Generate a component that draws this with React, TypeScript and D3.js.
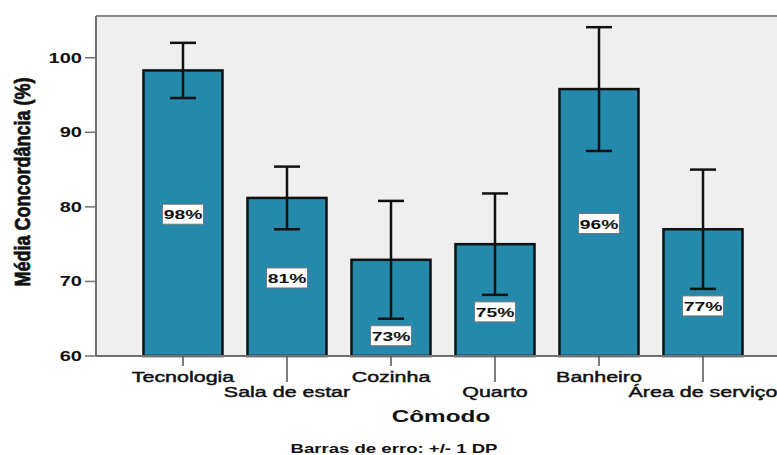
import React from "react";
import * as d3 from "d3";

const categories = ["Tecnologia", "Sala de estar", "Cozinha", "Quarto", "Banheiro", "Área de serviço"];
const means = [98.3, 81.2, 72.9, 75.0, 95.8, 77.0];
const sds = [3.7, 4.2, 7.9, 6.8, 8.3, 8.0];
const valueLabels = ["98%", "81%", "73%", "75%", "96%", "77%"];
const yTicks = [60, 70, 80, 90, 100];

const W = 777;
const H = 455;
const SX = 1.43;
const FONT = "'Liberation Sans', Arial, Helvetica, sans-serif";

export default function App() {
  const left = 96;
  const right = 790;
  const top = 16;
  const bottom = 356;

  const y = d3.scaleLinear().domain([60, 105.6]).range([bottom, top]);
  const x = d3
    .scaleBand<string>()
    .domain(categories)
    .range([left, right])
    .paddingInner(0.24)
    .paddingOuter(0.4565);
  const bw = x.bandwidth();
  const capHalf = 13;

  return (
    <svg
      width={W}
      height={H}
      style={{ position: "absolute", left: 0, top: 0, background: "#fff" }}
      fontFamily={FONT}
    >
      {/* plot background */}
      <rect x={left} y={top} width={right - left} height={bottom - top} fill="#efefef" />
      <line x1={left} x2={right} y1={top} y2={top} stroke="#888" strokeWidth={2} />

      {/* bars */}
      {categories.map((c, i) => {
        const x0 = x(c)!;
        return (
          <rect
            key={"b" + c}
            x={x0}
            y={y(means[i])}
            width={bw}
            height={bottom - y(means[i])}
            fill="#2489aa"
            stroke="#111"
            strokeWidth={2.5}
          />
        );
      })}

      {/* error bars */}
      {categories.map((c, i) => {
        const cx = x(c)! + bw / 2;
        const hi = y(means[i] + sds[i]);
        const lo = y(means[i] - sds[i]);
        return (
          <g key={"e" + c} stroke="#111" strokeWidth={2.5}>
            <line x1={cx} x2={cx} y1={hi} y2={lo} />
            <line x1={cx - capHalf} x2={cx + capHalf} y1={hi} y2={hi} />
            <line x1={cx - capHalf} x2={cx + capHalf} y1={lo} y2={lo} />
          </g>
        );
      })}

      {/* value labels */}
      {categories.map((c, i) => {
        const cx = x(c)! + bw / 2;
        const mid = (y(means[i]) + bottom) / 2;
        const lo = y(means[i] - sds[i]);
        const cy = Math.max(mid + 1, lo + 17);
        return (
          <g key={"l" + c}>
            <rect x={cx - 20.5} y={cy - 10} width={41} height={20} fill="#fff" stroke="#777" strokeWidth={1} />
            <text
              transform={`translate(${cx},${cy + 5}) scale(${SX},1)`}
              textAnchor="middle"
              fontSize={13.5}
              fontWeight="bold"
              fill="#111"
            >
              {valueLabels[i]}
            </text>
          </g>
        );
      })}

      {/* axes lines */}
      <line x1={left} x2={left} y1={top} y2={bottom} stroke="#707070" strokeWidth={2} />
      <line x1={left} x2={right} y1={bottom} y2={bottom} stroke="#707070" strokeWidth={2} />

      {/* y ticks */}
      {yTicks.map((t) => (
        <g key={"yt" + t}>
          <line x1={left - 11} x2={left} y1={y(t)} y2={y(t)} stroke="#707070" strokeWidth={1.5} />
          <text
            transform={`translate(${left - 14},${y(t) + 5}) scale(${SX},1)`}
            textAnchor="end"
            fontSize={14}
            fontWeight="bold"
            fill="#111"
          >
            {t}
          </text>
        </g>
      ))}

      {/* x ticks */}
      {categories.map((c, i) => {
        const cx = x(c)! + bw / 2;
        const odd = i % 2 === 1;
        return (
          <g key={"xt" + c}>
            <line x1={cx} x2={cx} y1={bottom} y2={odd ? 382 : 366} stroke="#555" strokeWidth={1.5} />
            <text
              transform={`translate(${cx},${odd ? 397 : 382}) scale(${SX},1)`}
              textAnchor="middle"
              fontSize={15}
              fill="#111"
              stroke="#111"
              strokeWidth={0.45}
            >
              {c}
            </text>
          </g>
        );
      })}

      {/* axis titles */}
      <text
        transform={`translate(441,422) scale(${SX},1)`}
        textAnchor="middle"
        fontSize={17}
        fontWeight="bold"
        fill="#111"
      >
        Cômodo
      </text>
      <text
        transform={`translate(30,182) scale(1.25,1) rotate(-90)`}
        textAnchor="middle"
        fontSize={18}
        fontWeight="bold"
        fill="#111"
        stroke="#111"
        strokeWidth={0.6}
      >
        Média Concordância (%)
      </text>
      <text
        transform={`translate(394,453) scale(${SX},1)`}
        textAnchor="middle"
        fontSize={13}
        fontWeight="bold"
        fill="#111"
      >
        Barras de erro: +/- 1 DP
      </text>
    </svg>
  );
}
